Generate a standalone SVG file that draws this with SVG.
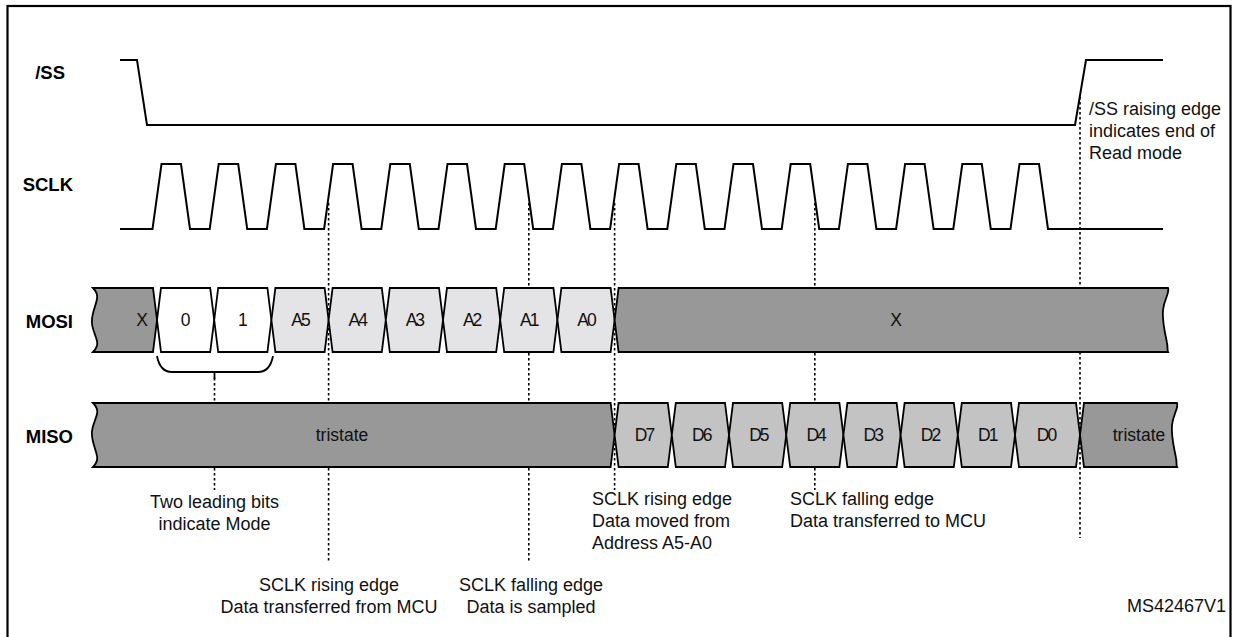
<svg xmlns="http://www.w3.org/2000/svg" width="1233" height="637" viewBox="0 0 1233 637">
<style>
.wave{fill:none;stroke:#000;stroke-width:2;stroke-linejoin:miter}
.dash{fill:none;stroke:#000;stroke-width:1.6;stroke-dasharray:2.5 2.5}
.cell{stroke:#000;stroke-width:1.8;stroke-linejoin:miter}
.dk{fill:#989898}.lt{fill:#c3c3c3}.wh{fill:#fff}.ad{fill:#e4e4e6}
.lbl{font-family:"Liberation Sans",Arial,sans-serif;font-weight:bold;font-size:18.5px;text-anchor:end;fill:#000}
.ct{font-family:"Liberation Sans",Arial,sans-serif;font-size:17.5px;text-anchor:middle;fill:#111}
.cs{letter-spacing:-2px}
.an{font-family:"Liberation Sans",Arial,sans-serif;font-size:18px;fill:#111}
.mid{text-anchor:middle}
</style>
<rect x="7.5" y="6" width="1223" height="700" fill="#fff" stroke="#000" stroke-width="2.2"/>

<g id="connectors">
<path class="dash" d="M214.5,378V490"/>
<path class="dash" d="M328.6,203V563"/>
<path class="dash" d="M528.8,203V563"/>
<path class="dash" d="M614.6,203V490"/>
<path class="dash" d="M814.8,203V490"/>
<path class="dash" d="M1080,97V538"/>
<path fill="none" stroke="#000" stroke-width="1.8" d="M157,356Q160,372 172,372L258,372Q270,372 273,356M214.5,372V379"/>
</g>

<g id="ss">
<text class="lbl" x="65" y="79">/SS</text>
<path class="wave" d="M120,60H137L147,125H1075L1086,60H1163"/>
</g>

<g id="sclk">
<text class="lbl" x="73" y="191">SCLK</text>
<path class="wave" d="M120,229H152.5L161.5,164H181L190,229H209.7L218.7,164H238.2L247.2,229H266.9L275.9,164H295.4L304.4,229H324.1L333.1,164H352.6L361.6,229H381.3L390.3,164H409.8L418.8,229H438.5L447.5,164H467L476,229H495.7L504.7,164H524.2L533.2,229H552.9L561.9,164H581.4L590.4,229H610.1L619.1,164H638.6L647.6,229H667.3L676.3,164H695.8L704.8,229H724.5L733.5,164H753L762,229H781.7L790.7,164H810.2L819.2,229H838.9L847.9,164H867.4L876.4,229H896.1L905.1,164H924.6L933.6,229H953.3L962.3,164H981.8L990.8,229H1010.5L1019.5,164H1039L1048,229H1163"/>
</g>

<g id="mosi">
<text class="lbl" x="73" y="328">MOSI</text>
<path class="cell dk" d="M93,288H153L157,320L153,352H93C96,349 98,345 97,341C95,333 91,327 92,320C92,313 96,305 97,299C98,294 96,291 93,288Z"/>
<path class="cell wh" d="M161,288H210.2L214.2,320L210.2,352H161L157,320Z"/>
<path class="cell wh" d="M218.2,288H267.4L271.4,320L267.4,352H218.2L214.2,320Z"/>
<path class="cell ad" d="M275.4,288H324.6L328.6,320L324.6,352H275.4L271.4,320Z"/>
<path class="cell ad" d="M332.6,288H381.8L385.8,320L381.8,352H332.6L328.6,320Z"/>
<path class="cell ad" d="M389.8,288H439L443,320L439,352H389.8L385.8,320Z"/>
<path class="cell ad" d="M447,288H496.2L500.2,320L496.2,352H447L443,320Z"/>
<path class="cell ad" d="M504.2,288H553.4L557.4,320L553.4,352H504.2L500.2,320Z"/>
<path class="cell ad" d="M561.4,288H610.6L614.6,320L610.6,352H561.4L557.4,320Z"/>
<path class="cell dk" d="M618.6,288H1168C1170,293 1164,299 1163,310C1162,322 1165,332 1167,343C1168,347 1167,350 1168,352H618.6L614.6,320Z"/>
<text class="ct" x="142" y="326">X</text>
<text class="ct" x="185.6" y="326">0</text>
<text class="ct" x="242.8" y="326">1</text>
<text class="ct cs" x="300" y="326">A5</text>
<text class="ct cs" x="357.2" y="326">A4</text>
<text class="ct cs" x="414.4" y="326">A3</text>
<text class="ct cs" x="471.6" y="326">A2</text>
<text class="ct cs" x="528.8" y="326">A1</text>
<text class="ct cs" x="586" y="326">A0</text>
<text class="ct" x="896" y="326">X</text>
</g>

<g id="miso">
<text class="lbl" x="73" y="443">MISO</text>
<path class="cell dk" d="M93,403H610.6L614.6,435L610.6,467H93C96,464 98,461 97,456C96,450 92,442 92,435C91,428 95,422 97,414C98,410 96,406 93,403Z"/>
<path class="cell lt" d="M618.6,403H667.8L671.8,435L667.8,467H618.6L614.6,435Z"/>
<path class="cell lt" d="M675.8,403H725L729,435L725,467H675.8L671.8,435Z"/>
<path class="cell lt" d="M733,403H782.2L786.2,435L782.2,467H733L729,435Z"/>
<path class="cell lt" d="M790.2,403H839.4L843.4,435L839.4,467H790.2L786.2,435Z"/>
<path class="cell lt" d="M847.4,403H896.6L900.6,435L896.6,467H847.4L843.4,435Z"/>
<path class="cell lt" d="M904.6,403H953.8L957.8,435L953.8,467H904.6L900.6,435Z"/>
<path class="cell lt" d="M961.8,403H1011L1015,435L1011,467H961.8L957.8,435Z"/>
<path class="cell lt" d="M1019,403H1076L1080,435L1076,467H1019L1015,435Z"/>
<path class="cell dk" d="M1084,403H1177C1179,408 1173,414 1172,425C1171,437 1174,447 1176,458C1177,462 1176,465 1177,467H1084L1080,435Z"/>
<text class="ct" x="342" y="441">tristate</text>
<text class="ct cs" x="644" y="441">D7</text>
<text class="ct cs" x="701.2" y="441">D6</text>
<text class="ct cs" x="758.4" y="441">D5</text>
<text class="ct cs" x="815.6" y="441">D4</text>
<text class="ct cs" x="872.8" y="441">D3</text>
<text class="ct cs" x="930" y="441">D2</text>
<text class="ct cs" x="987.2" y="441">D1</text>
<text class="ct cs" x="1046" y="441">D0</text>
<text class="ct" x="1139" y="441">tristate</text>
</g>

<g id="annotations">
<text class="an mid" x="214.5" y="508">Two leading bits</text>
<text class="an mid" x="214.5" y="530">indicate Mode</text>
<text class="an mid" x="329" y="591">SCLK rising edge</text>
<text class="an mid" x="329" y="613">Data transferred from MCU</text>
<text class="an mid" x="531" y="591">SCLK falling edge</text>
<text class="an mid" x="531" y="613">Data is sampled</text>
<text class="an" x="592" y="505">SCLK rising edge</text>
<text class="an" x="592" y="527">Data moved from</text>
<text class="an" x="592" y="549">Address A5-A0</text>
<text class="an" x="790" y="505">SCLK falling edge</text>
<text class="an" x="790" y="527">Data transferred to MCU</text>
<text class="an" x="1089" y="115">/SS raising edge</text>
<text class="an" x="1089" y="137">indicates end of</text>
<text class="an" x="1089" y="159">Read mode</text>
<text class="an" x="1226" y="612" text-anchor="end" font-size="17">MS42467V1</text>
</g>
</svg>
